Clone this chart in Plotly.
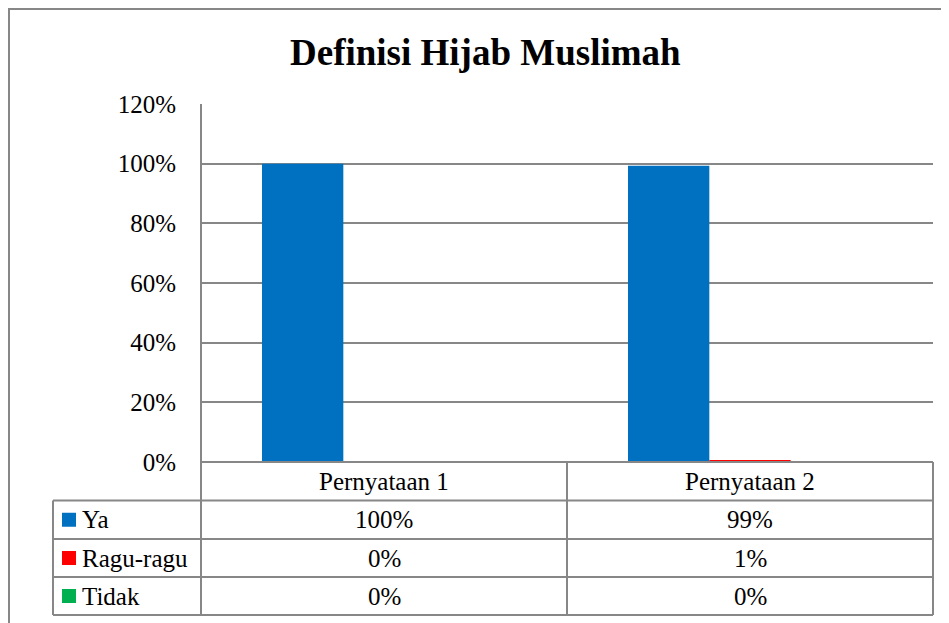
import plotly.graph_objects as go

# ---------------- data ----------------
categories = ["Pernyataan 1", "Pernyataan 2"]
series_names = ["Ya", "Ragu-ragu", "Tidak"]
ya_values = [1.00, 0.993]
ragu_values = [0.00, 0.007]
tidak_values = [0.00, 0.00]
series_colors = ["#0070C0", "#FF0000", "#00B050"]
y_tick_vals = [0, 0.2, 0.4, 0.6, 0.8, 1.0, 1.2]
y_tick_text = ["0%", "20%", "40%", "60%", "80%", "100%", "120%"]
title_text = "Definisi Hijab Muslimah"

all_values = [ya_values, ragu_values, tidak_values]

OFF = 8  # page body margin offset
W, H = 949 - OFF, 623 - OFF
# plot area in page pixels
L, R, T, B = 201, 933, 104, 462
GRAY = "#878787"
FONT = "Times New Roman, Liberation Serif, Tinos, serif"
FS = 25


def px2x(px):
    return (px - L) / (R - L)


def px2y(py):
    return (B - py) / (B - T)


fig = go.Figure()
for name, vals, col in zip(series_names, all_values, series_colors):
    fig.add_trace(go.Bar(x=categories, y=vals, name=name, marker=dict(color=col, line=dict(width=0)),
                         showlegend=False))

fig.update_layout(
    width=W, height=H,
    margin=dict(l=L - OFF, r=W - (R - OFF), t=T - OFF, b=H - (B - OFF), pad=0),
    paper_bgcolor="white", plot_bgcolor="white",
    barmode="group", bargap=1.5 / 4.5, bargroupgap=0,
    font=dict(family=FONT, color="black", size=FS),
)
fig.update_xaxes(showticklabels=False, showgrid=False, zeroline=False, showline=False,
                 range=[-0.5, 1.5])
fig.update_yaxes(range=[0, 1.2], tickvals=y_tick_vals, ticktext=y_tick_text,
                 showgrid=True, gridcolor=GRAY, gridwidth=2, zeroline=False, showline=False,
                 ticks="", ticklabelstandoff=24, tickfont=dict(family=FONT, size=FS, color="black"))

shapes = []


def hline(py, x0, x1):
    shapes.append(dict(type="line", xref="paper", yref="paper", x0=px2x(x0), x1=px2x(x1),
                       y0=px2y(py), y1=px2y(py), line=dict(color=GRAY, width=2)))


def vline(px, y0, y1):
    shapes.append(dict(type="line", xref="paper", yref="paper", x0=px2x(px), x1=px2x(px),
                       y0=px2y(y0), y1=px2y(y1), line=dict(color=GRAY, width=2)))


# outer chart border
shapes.append(dict(type="rect", xref="paper", yref="paper", x0=px2x(9), x1=px2x(970),
                   y0=px2y(660), y1=px2y(9), line=dict(color=GRAY, width=2)))

rows = [462, 500.5, 539, 577, 615]
hline(rows[0], L, R)
for r in rows[1:]:
    hline(r, 53, R)
vline(L, T, rows[-1])
vline(53, rows[1], rows[-1])
vline((L + R) / 2, rows[0], rows[-1])
vline(R, rows[0], rows[-1])

annotations = []
# title
annotations.append(dict(text="<b>" + title_text + "</b>", xref="paper", yref="paper",
                        x=px2x(485), y=px2y(52), xanchor="center", yanchor="middle",
                        showarrow=False, font=dict(family=FONT, size=37, color="black")))
# category header row
header_cy = (rows[0] + rows[1]) / 2
for i, c in enumerate(categories):
    annotations.append(dict(text=c, xref="x", yref="paper", x=i, y=px2y(header_cy),
                            xanchor="center", yanchor="middle", showarrow=False,
                            font=dict(family=FONT, size=FS, color="black")))
# data rows
for k, (name, vals, col) in enumerate(zip(series_names, all_values, series_colors)):
    cy = (rows[k + 1] + rows[k + 2]) / 2
    shapes.append(dict(type="rect", xref="paper", yref="paper", x0=px2x(62), x1=px2x(76),
                       y0=px2y(cy + 7), y1=px2y(cy - 7), fillcolor=col, line=dict(width=0)))
    annotations.append(dict(text=name, xref="paper", yref="paper", x=px2x(80), y=px2y(cy),
                            xanchor="left", yanchor="middle", showarrow=False,
                            font=dict(family=FONT, size=FS, color="black")))
    for i, v in enumerate(vals):
        annotations.append(dict(text=f"{round(v * 100):d}%", xref="x", yref="paper", x=i,
                                y=px2y(cy), xanchor="center", yanchor="middle", showarrow=False,
                                font=dict(family=FONT, size=FS, color="black")))

fig.update_layout(shapes=shapes, annotations=annotations)
fig.write_html("out.html")
